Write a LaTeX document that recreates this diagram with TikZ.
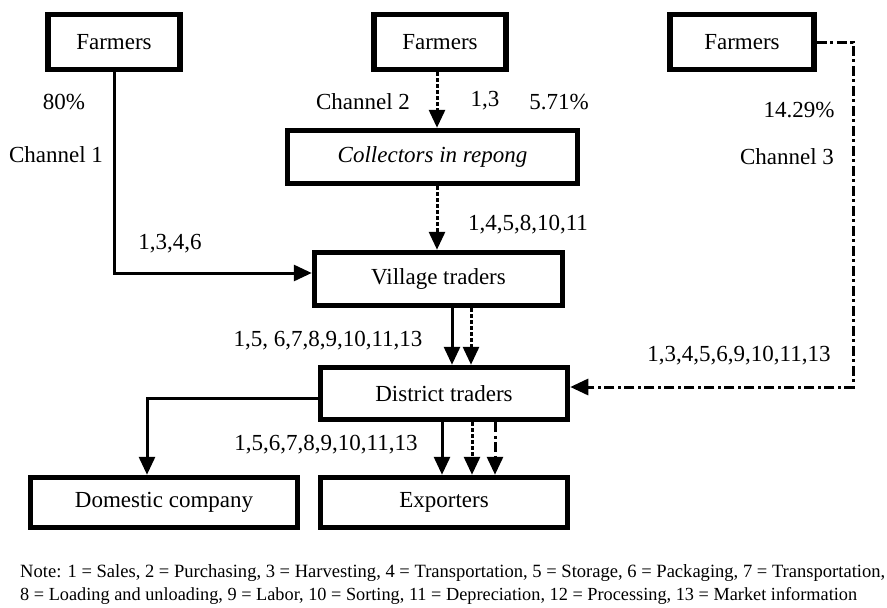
\documentclass[tikz,border=0pt]{standalone}
\usepackage{fontspec}
\setmainfont{Liberation Serif}
\usetikzlibrary{arrows.meta,calc}
\tikzset{
  box/.style={draw, line width=5.5pt, inner sep=0pt, font=\fontsize{23}{27}\selectfont},
  lbl/.style={font=\fontsize{23}{27}\selectfont, inner sep=0pt},
  conn/.style={line width=3pt, -{Triangle[length=18pt,width=16pt]}},
  dsh/.style={dash pattern=on 4pt off 2pt},
  ddot/.style={dash pattern=on 10pt off 3.5pt on 3pt off 3.5pt},
}
\begin{document}
\begin{tikzpicture}[x=1pt,y=-1pt]
\useasboundingbox (0,0) rectangle (887,608);
% boxes
\node[box, minimum width=132pt, minimum height=55pt] (f1) at (114,42) {Farmers};
\node[box, minimum width=132pt, minimum height=55pt] (f2) at (440,42) {Farmers};
\node[box, minimum width=144pt, minimum height=55pt] (f3) at (742,42) {Farmers};
\node[box, minimum width=290pt, minimum height=53pt] (col) at (432.5,157) {\itshape Collectors in repong};
\node[box, minimum width=248pt, minimum height=53pt] (vt) at (438.5,279) {Village traders};
\node[box, minimum width=247pt, minimum height=52pt] (dt) at (444,393.5) {District traders};
\node[box, minimum width=267pt, minimum height=50pt] (dom) at (164,502.5) {Domestic company};
\node[box, minimum width=247pt, minimum height=50pt] (ex) at (444,502.5) {Exporters};
% helper x positions
\coordinate (xa) at (437,0);
\coordinate (xb) at (452,0);
\coordinate (xc) at (471,0);
\coordinate (xd) at (442,0);
\coordinate (xe) at (472,0);
\coordinate (xf) at (495,0);
\coordinate (xg) at (147,0);
\coordinate (c3) at (853,387);
% connectors
\draw[conn] (f1.south) |- ([yshift=6pt]vt.west);
\draw[conn,dsh] (f2.south -| xa) -- (col.north -| xa);
\draw[conn,dsh] (col.south -| xa) -- (vt.north -| xa);
\draw[conn] (vt.south -| xb) -- (dt.north -| xb);
\draw[conn,dsh] (vt.south -| xc) -- (dt.north -| xc);
\draw[conn] (dt.south -| xd) -- (ex.north -| xd);
\draw[conn,dsh] (dt.south -| xe) -- (ex.north -| xe);
\draw[conn,ddot] (dt.south -| xf) -- (ex.north -| xf);
\draw[conn] ([yshift=-4.5pt]dt.west) -| (dom.north -| xg);
\draw[conn,ddot] (f3.east) -| (c3) -- ([yshift=6.5pt]dt.east);
% labels
\node[lbl] (l80) at (64,102) {80\%};
\node[lbl] (lch1) at (56,155) {Channel 1};
\node[lbl] (l1346) at (170,244) {1,3,4,6};
\node[lbl] (lch2) at (363,102) {Channel 2};
\node[lbl] (l13) at (485,101) {1,3};
\node[lbl] (l571) at (559,102) {5.71\%};
\node[lbl] (l1429) at (799,110) {14.29\%};
\node[lbl] (lch3) at (787,157) {Channel 3};
\node[lbl] (lcol) at (528,225) {1,4,5,8,10,11};
\node[lbl] (lvt) at (328,341) {1,5, 6,7,8,9,10,11,13};
\node[lbl] (lch3b) at (739,356) {1,3,4,5,6,9,10,11,13};
\node[lbl] (ldt) at (326,445) {1,5,6,7,8,9,10,11,13};
% note
\node[anchor=west, inner sep=0pt] (n1) at (20,573) {\resizebox{865pt}{13pt}{Note: 1 = Sales, 2 = Purchasing, 3 = Harvesting, 4 = Transportation, 5 = Storage, 6 = Packaging, 7 = Transportation,}};
\node[anchor=west, inner sep=0pt] (n2) at (20,596) {\resizebox{837pt}{13pt}{8 = Loading and unloading, 9 = Labor, 10 = Sorting, 11 = Depreciation, 12 = Processing, 13 = Market information}};
\end{tikzpicture}
\end{document}
